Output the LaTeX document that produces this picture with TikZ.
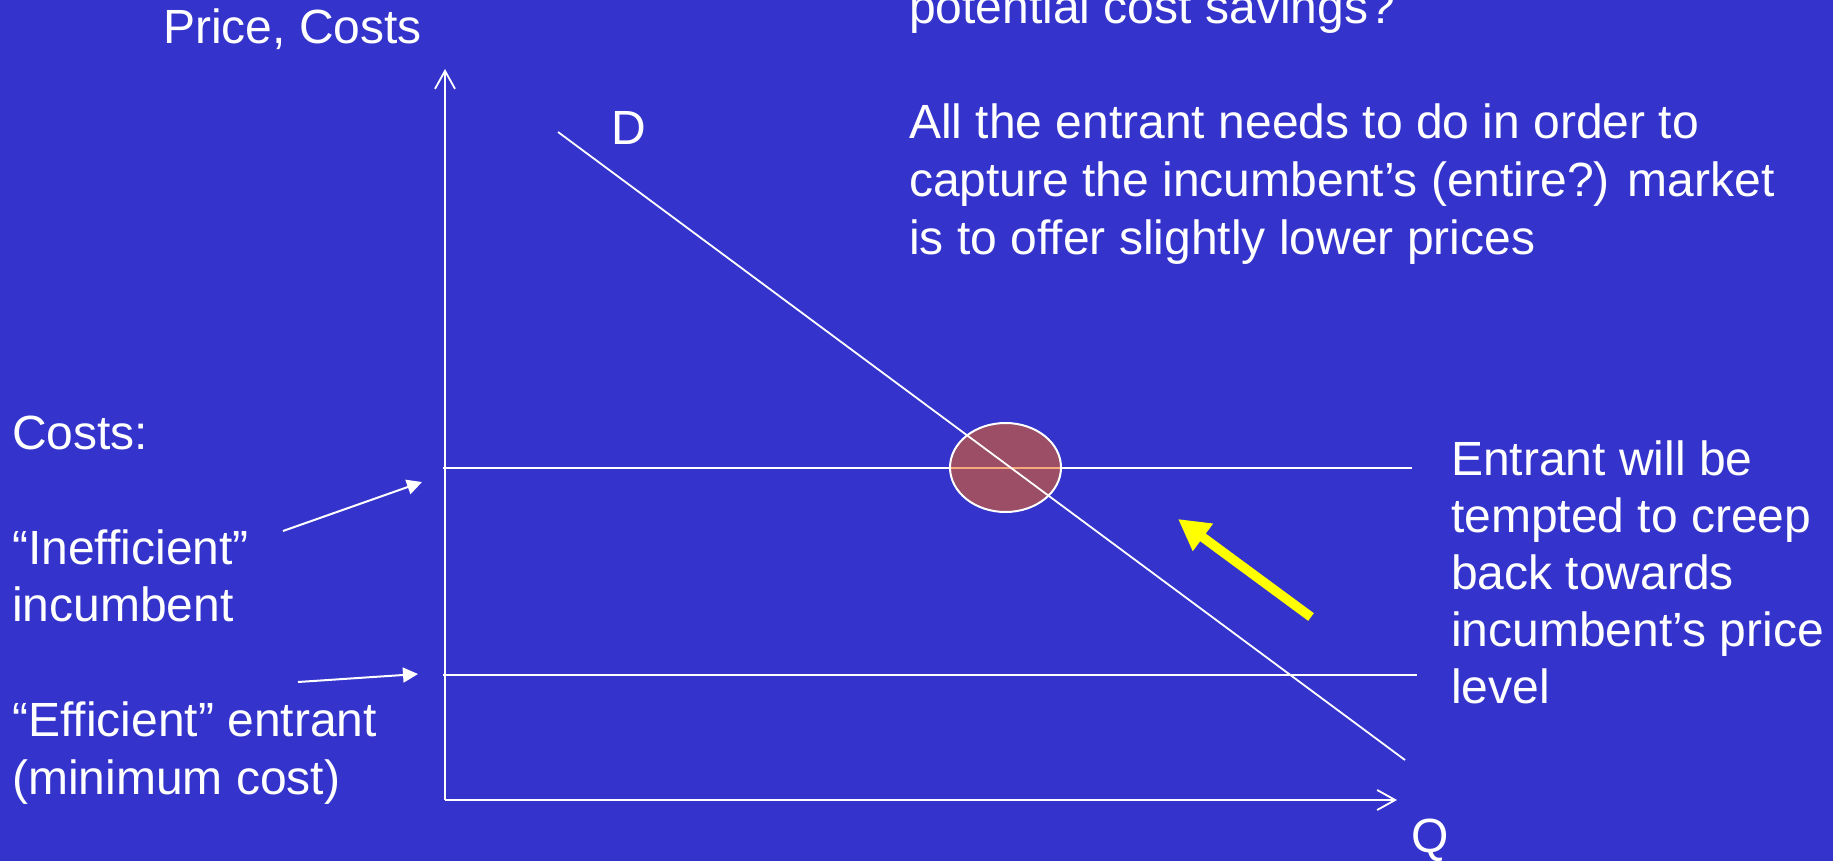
\documentclass[tikz,border=0pt]{standalone}
\usepackage{fontspec}
\setmainfont{Liberation Sans}
\usetikzlibrary{arrows.meta,shapes.geometric}
\definecolor{bg}{RGB}{52,52,204}
\definecolor{hl}{RGB}{240,100,20}
\definecolor{yel}{RGB}{255,255,0}
\begin{document}
\begin{tikzpicture}[x=1pt,y=-1pt,
  txt/.style={text=white, inner sep=0pt, anchor=base west, font=\fontsize{48}{57.5}\selectfont},
  ln/.style={draw=white, line width=1.8pt},
  axis/.style={ln, -{Straight Barb[length=18pt,width=20pt]}},
  ptr/.style={draw=white, line width=2pt, -{Triangle[length=15pt,width=15pt]}},
  bigarrow/.style={draw=yel, line width=9.5pt, -{Triangle[length=31pt,width=32pt]}},
  spotstyle/.style={ellipse, draw=white, line width=2pt, fill=hl, fill opacity=0.55,
    minimum width=111pt, minimum height=89pt, inner sep=0pt}]
\useasboundingbox (0,0) rectangle (1833,861);
\clip (0,0) rectangle (1833,861);
\fill[bg] (0,0) rectangle (1833,861);

% texts
\node[txt] (price) at (163,44) {Price, Costs};
\node[txt] (q1) at (909,24) {potential cost savings?};
\node[txt] (q2) at (909,139) {All the entrant needs to do in order to};
\node[txt] (q3) at (909,196.5) {capture the incumbent’s (entire?) market};
\node[txt] (q4) at (909,254) {is to offer slightly lower prices};
\node[txt] (dlab) at (611,145) {D};
\node[txt] (qlab) at (1411,852) {Q};
\node[txt] (costs) at (12,449) {Costs:};
\node[txt] (ineff) at (12,564) {“Inefficient”};
\node[txt] (incumb) at (12,621.5) {incumbent};
\node[txt] (eff) at (12,736) {“Efficient” entrant};
\node[txt] (minc) at (12,794) {(minimum cost)};
\node[txt] (r1) at (1451,475) {Entrant will be};
\node[txt] (r2) at (1451,532) {tempted to creep};
\node[txt] (r3) at (1451,589) {back towards};
\node[txt] (r4) at (1451,646) {incumbent’s price};
\node[txt] (r5) at (1451,703) {level};

% coordinates
\coordinate (O) at (445,800);
\coordinate (Ytop) at (445,69);
\coordinate (Xend) at (1397,800);
\coordinate (H1a) at (443,468);
\coordinate (H1b) at (1412,468);
\coordinate (H2a) at (443,675);
\coordinate (H2b) at (1417,675);
\coordinate (D1) at (558,132);
\coordinate (D2) at (1405,760);
\coordinate (Ya) at (1311,617);
\coordinate (Yb) at (1178,519);
\coordinate (p1a) at (283,531);
\coordinate (p1b) at (422,482);
\coordinate (p2a) at (298,682);
\coordinate (p2b) at (418,674);

% axes
\draw[axis] (O) -- (Ytop);
\draw[axis] (O) -- (Xend);
% cost lines
\draw[ln] (H1a) -- (H1b);
\draw[ln] (H2a) -- (H2b);
% highlight
\node[spotstyle] (spot) at (1005.5,467.5) {};
% demand
\draw[ln] (D1) -- (D2);
% arrows
\draw[bigarrow] (Ya) -- (Yb);
\draw[ptr] (p1a) -- (p1b);
\draw[ptr] (p2a) -- (p2b);
\end{tikzpicture}
\end{document}
